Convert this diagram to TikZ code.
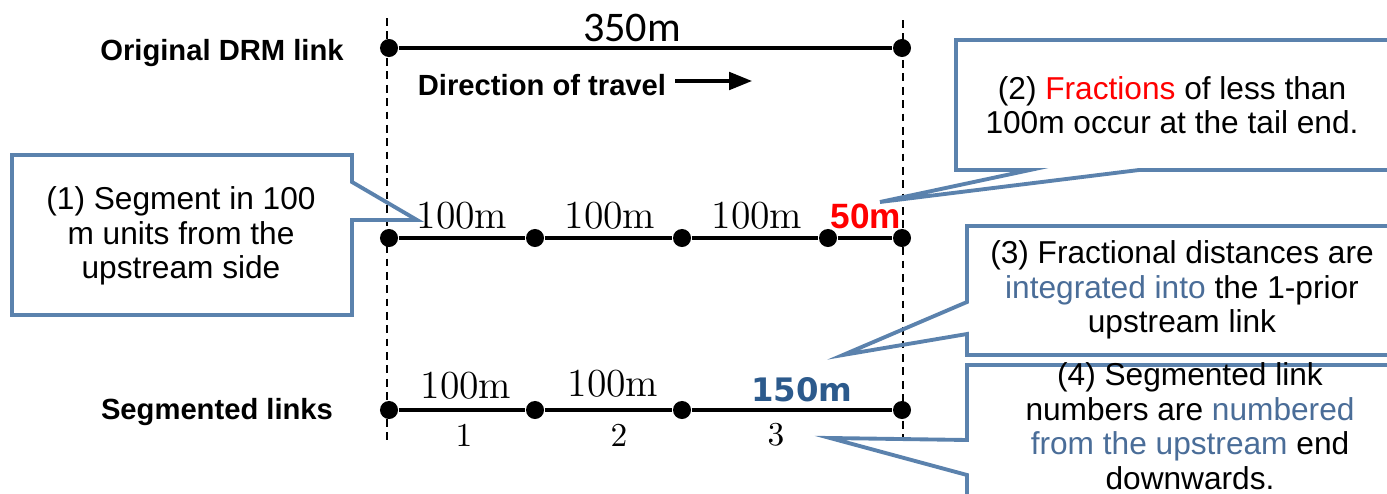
\documentclass[tikz,border=0pt]{standalone}
\usepackage{fontspec}
\newfontfamily\arialfont{Liberation Sans}
\newfontfamily\calfont{Carlito}
\newfontfamily\verdfont{DejaVu Sans}
\usetikzlibrary{arrows.meta,positioning}
\definecolor{boxblue}{HTML}{5B82AD}
\definecolor{noteblue}{HTML}{4A6D98}
\definecolor{lenblue}{HTML}{2C5A8C}
\begin{document}
\begin{tikzpicture}[x=0.01cm, y=-0.01cm,
    dot/.style={circle, fill=black, inner sep=0pt, minimum size=0.18cm},
    link/.style={line width=0.9pt},
    guide/.style={line width=0.35pt, dash pattern=on 2.2pt off 1.6pt},
    callout/.style={draw=boxblue, line width=1.1pt, line join=miter},
    note/.style={align=center, font=\arialfont\fontsize{9}{9.8}\selectfont},
    rowlabel/.style={font=\arialfont\bfseries\fontsize{8.3}{10}\selectfont},
    seglen/.style={font=\fontsize{11.3}{13}\selectfont, inner sep=0pt},
    segno/.style={font=\fontsize{9.5}{11}\selectfont, inner sep=0pt},
    arr/.style={-{Triangle[length=6.5pt,width=5pt]}, line width=0.9pt}
]
\useasboundingbox (0,0) rectangle (1387,494);
\clip (0,0) rectangle (1387,494);

% guide lines at both link ends
\coordinate (topA) at (387,18);
\coordinate (botA) at (387,440);
\coordinate (topB) at (903,20);
\coordinate (botB) at (903,440);
\draw[guide] (topA) -- (botA);
\draw[guide] (topB) -- (botB);

% lengths
\node[font=\calfont\fontsize{12}{14}\selectfont] (len) at (632,28) {350m};
\foreach \n/\x in {1/462,2/610,3/757}
    \node[seglen] (l\n) at (\x,216) {100m};
\node[font=\arialfont\bfseries\fontsize{10}{12}\selectfont, text=red, inner sep=0pt] (frac) at (866,216) {50m};
\node[seglen] (m1) at (466,386) {100m};
\node[seglen] (m2) at (613,384) {100m};
\node[font=\verdfont\bfseries\fontsize{9.2}{11}\selectfont, text=lenblue, inner sep=0pt] (m3) at (802,390) {150m};
\foreach \n/\x in {1/464,2/619,3/776}
    \node[segno] (no\n) at (\x,435) {\n};

% row labels
\node[rowlabel] (orig) at (222,53) {Original DRM link};
\node[rowlabel] (seg) at (217,412) {Segmented links};
\node[rowlabel] (dir) at (542,85) {Direction of travel};
\coordinate (dirstart) at (675,81);
\coordinate (dirend) at (752,81);
\draw[arr] (dirstart) -- (dirend);

% original link
\node[dot] (o1) at (389,48) {};
\node[dot] (o2) at (902,48) {};
\draw[link] (o1) -- (o2);

% 100 m pieces
\foreach \n/\x in {1/389,2/535,3/682,4/828,5/902}
    \node[dot] (s\n) at (\x,238) {};
\draw[link] (s1) -- (s2) -- (s3) -- (s4) -- (s5);

% segmented links
\foreach \n/\x in {1/389,2/535,3/682,4/902}
    \node[dot] (g\n) at (\x,410) {};
\draw[link] (g1) -- (g2) -- (g3) -- (g4);

% callouts
\draw[callout] (12,155) -- (352,155) -- (352,182) -- (417,220) -- (352,220) -- (352,315) -- (12,315) -- cycle;
\node[note] (c1) at (181,236) {(1) Segment in 100\\m units from the\\upstream side};

\draw[callout] (1400,40) -- (956,40) -- (956,170) -- (1030,170) -- (880,202) -- (1139,170) -- (1400,170);
\node[note] (c2) at (1172,105) {(2) \textcolor{red}{Fractions} of less than\\100m occur at the tail end.};

\draw[callout] (1400,226) -- (967,226) -- (967,302) -- (843,355) -- (967,334) -- (967,355) -- (1400,355);
\node[note] (c3) at (1182,290) {(3) Fractional distances are\\\textcolor{noteblue}{integrated into} the 1-prior\\upstream link};

\draw[callout] (1400,365) -- (967,365) -- (967,440) -- (830,438) -- (967,475) -- (967,500);
\node[note] (c4) at (1190,426) {(4) Segmented link\\numbers are \textcolor{noteblue}{numbered}\\\textcolor{noteblue}{from the upstream} end\\downwards.};
\end{tikzpicture}
\end{document}
